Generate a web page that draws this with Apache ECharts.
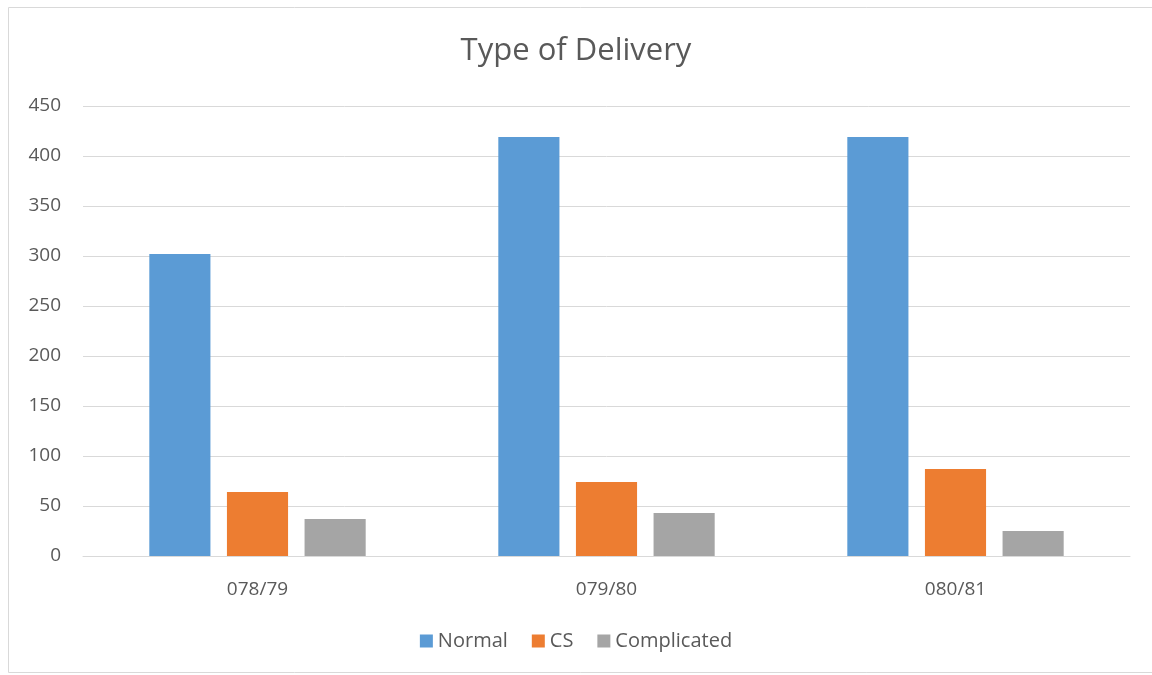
<!DOCTYPE html>
<html>
<head>
<meta charset="utf-8">
<script src="https://cdn.jsdelivr.net/npm/echarts@6/dist/echarts.min.js"></script>
<style>
  html, body { margin: 0; padding: 0; background: #fff; }
  #chart { width: 1152px; height: 675px; }
</style>
</head>
<body>
<div id="chart"></div>
<script>
// data
let years = ["078/79", "079/80", "080/81"];
let normal = [302, 419, 419];
let cs = [64, 74, 87];
let complicated = [37, 43, 25];

let txt = "#595959";
let font = "'Open Sans', 'Noto Sans', sans-serif";

let chart = echarts.init(document.getElementById("chart"));
let option = {
  animation: false,
  textStyle: { fontFamily: font },
  graphic: [
    {
      type: "rect",
      shape: { x: 8.5, y: 7.5, width: 1160, height: 665 },
      style: { fill: "none", stroke: "#d9d9d9", lineWidth: 1 },
      silent: true
    }
  ],
  title: {
    text: "Type of Delivery",
    left: "center",
    top: 31,
    textStyle: { color: txt, fontSize: 31, fontWeight: "normal", fontFamily: font }
  },
  legend: {
    bottom: 19,
    left: "center",
    itemWidth: 13,
    itemHeight: 13,
    itemGap: 24,
    icon: "rect",
    textStyle: { color: txt, fontSize: 20, fontFamily: font },
    data: ["Normal", "CS", "Complicated"]
  },
  grid: { left: 83, right: 22, top: 106, bottom: 119 },
  xAxis: {
    type: "category",
    data: years,
    axisLine: { lineStyle: { color: "#d9d9d9" } },
    axisTick: { show: false },
    axisLabel: { color: txt, fontSize: 19, margin: 24, fontFamily: font }
  },
  yAxis: {
    type: "value",
    min: 0,
    max: 450,
    interval: 50,
    axisLine: { show: false },
    axisTick: { show: false },
    splitLine: { lineStyle: { color: "#d9d9d9", width: 1 } },
    axisLabel: { color: txt, fontSize: 19, margin: 22, fontFamily: font }
  },
  series: [
    { name: "Normal", type: "bar", data: normal, itemStyle: { color: "#5b9bd5" }, barGap: "27%", barCategoryGap: "38%" },
    { name: "CS", type: "bar", data: cs, itemStyle: { color: "#ed7d31" } },
    { name: "Complicated", type: "bar", data: complicated, itemStyle: { color: "#a5a5a5" } }
  ]
};
chart.setOption(option);
</script>
</body>
</html>
